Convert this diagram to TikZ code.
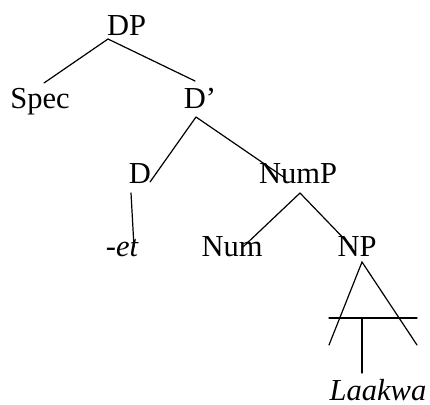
\documentclass[tikz,border=0pt]{standalone}
\usepackage{fontspec}
\setmainfont{Liberation Serif}
\begin{document}
\begin{tikzpicture}[x=1pt,y=-1pt,
  lab/.style={anchor=base,inner sep=0pt,font=\fontsize{30.5}{36}\selectfont},
  branch/.style={line width=1.2pt,line cap=round}]
\useasboundingbox (0,0) rectangle (430,404);
% labels
\node[lab] (DP)   at (126.5,36) {DP};
\node[lab] (Spec) at (40,108)   {Spec};
\node[lab] (Dbar) at (200,108)  {D’};
\node[lab] (D)    at (140,183)  {D};
\node[lab] (NumP) at (298,183)  {NumP};
\node[lab] (et)   at (122,256)  {\itshape -et};
\node[lab] (Num)  at (232,256)  {Num};
\node[lab] (NP)   at (357,256)  {NP};
\node[lab] (Lk)   at (378,400)  {\itshape Laakwa};
% branches
\draw[branch] ([shift={(-18.5,3)}]DP.base) -- ([shift={(4,-25)}]Spec.base);
\draw[branch] ([shift={(-18.5,3)}]DP.base) -- ([shift={(-5,-27)}]Dbar.base);
\draw[branch] ([shift={(-4,9)}]Dbar.base) -- ([shift={(10,-1)}]D.base);
\draw[branch] ([shift={(-4,9)}]Dbar.base) -- ([shift={(-13,-5)}]NumP.base);
\draw[branch] ([shift={(-9,10)}]D.base) -- ([shift={(12,-9)}]et.base);
\draw[branch] ([shift={(2,10)}]NumP.base) -- ([shift={(11,-9)}]Num.base);
\draw[branch] ([shift={(2,10)}]NumP.base) -- ([shift={(-5,-9)}]NP.base);
% open triangle over the NP
\coordinate (legL) at (329,345);
\coordinate (legR) at (417,345);
\coordinate (barL) at (329,318);
\coordinate (barR) at (417,318);
\coordinate (barM) at (362,318);
\draw[branch] (legL) -- ([shift={(5,6)}]NP.base) -- (legR);
\draw[branch] (barL) -- (barR);
\draw[branch] (barM) -- ([shift={(-16,-27)}]Lk.base);
\end{tikzpicture}
\end{document}
